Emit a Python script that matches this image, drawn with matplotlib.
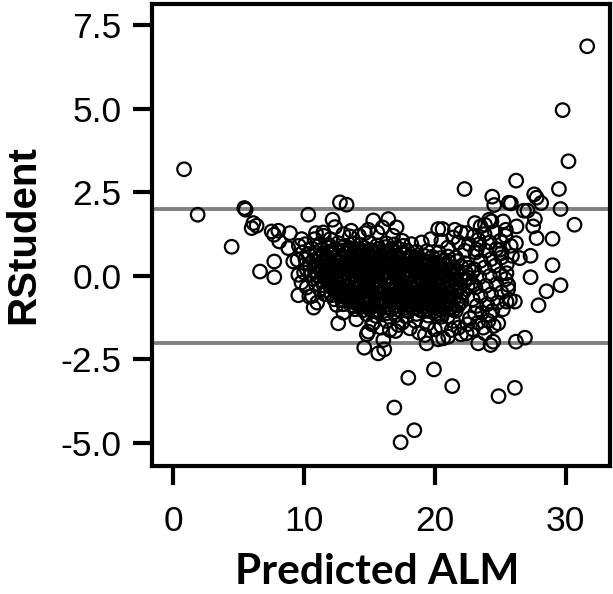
import matplotlib
matplotlib.use('Agg')
import matplotlib.pyplot as plt

plt.rcParams['axes.unicode_minus'] = False

# %% data (predicted ALM vs studentized residual)
# points outside the +/-2 band
x_out = [31.65, 29.77, 30.22, 0.82, 5.43, 22.27, 26.22, 29.49, 24.39, 24.54,
         25.66, 25.82, 27.6, 27.78, 28.13, 12.74, 13.25, 26.12, 24.87, 21.33,
         19.93, 17.97, 16.9, 18.43, 17.38, 14.6, 15.67, 16.13, 24.26, 19.37,
         23.32, 29.61]
y_out = [6.87, 4.96, 3.43, 3.19, 2.03, 2.6, 2.85, 2.6, 2.37, 2.12,
         2.19, 2.17, 2.44, 2.34, 2.18, 2.2, 2.13, -3.35, -3.6, -3.3,
         -2.8, -3.05, -3.94, -4.62, -4.98, -2.15, -2.32, -2.2, -2.07, -2.02,
         -2.02, 2.0]

# sparse points around the main cloud
x_edge = [1.86, 4.46, 5.53, 30.68, 26.81, 27.09, 29.0, 29.0, 29.61, 28.54,
          27.93, 27.32, 27.32, 26.5, 26.89, 26.2, 12.61, 10.73, 9.56, 6.63,
          7.72, 7.72, 10.32, 5.99, 6.37, 6.12, 7.52, 8.03, 7.7, 8.92,
          8.1, 8.79, 9.81, 9.17, 9.5, 9.56, 10.4, 12.18, 12.36, 10.91,
          11.47, 15.29, 16.44, 17.07, 14.65, 14.91, 13.5, 20.26, 20.59, 21.53,
          22.43, 23.07, 23.5, 23.83, 24.16, 24.33, 25.23, 25.43, 26.25, 27.65,
          27.52, 27.78, 26.2, 24.97, 25.1, 23.32, 23.2, 25.48, 25.61, 25.74,
          26.12, 25.48, 24.85, 24.21, 23.83, 24.46, 22.68, 23.07, 22.89, 22.43,
          21.28, 21.02, 20.64, 20.26, 19.24, 18.09, 17.2, 16.56, 16.06, 14.91,
          15.29, 13.76, 14.14, 12.49, 22.94, 21.41, 22.04, 20.51,
          9.9, 10.1, 9.6, 10.2, 10.0, 9.8, 10.6, 11.0, 10.8, 11.5,
          12.0, 13.0, 13.6, 14.2, 15.6, 16.0, 16.8, 17.5, 18.2, 19.0,
          19.7, 20.5, 21.0, 13.0, 14.0, 15.2, 16.3, 17.5, 18.5, 19.4,
          20.5, 21.4, 17.0, 18.8, 20.0, 21.8, 22.0, 15.9, 14.8]
y_edge = [1.83, 0.87, 1.98, 1.53, 1.95, 1.95, 1.11, 0.32, -0.28, -0.46,
          -0.88, -0.04, 0.6, 0.53, -1.85, -1.97, -1.42, -0.95, -0.58, 0.13,
          0.43, -0.04, 1.83, 1.43, 1.5, 1.58, 1.33, 1.35, 1.23, 1.28,
          1.03, 0.83, 1.1, 0.43, 0.48, 0.03, -0.62, 1.68, 1.46, 1.28,
          1.3, 1.66, 1.7, 1.45, 1.28, 1.38, 1.18, 1.4, 1.4, 1.38,
          1.28, 1.58, 1.48, 1.53, 1.68, 1.63, 1.63, 1.38, 1.48, 1.7,
          1.48, 1.13, 0.98, 0.78, 0.68, 1.08, 0.78, 0.08, -0.27, -0.72,
          -0.77, -0.77, -1.42, -1.17, -1.72, -1.97, -1.27, -1.12, -0.7, -1.72,
          -1.62, -1.82, -1.87, -1.9, -1.77, -1.57, -1.47, -1.62, -1.92, -1.67,
          -1.4, -0.77, -0.87, -0.87, -0.27, -1.02, -0.77, -1.22,
          0.7, 0.95, 0.9, -0.35, 0.1, -0.2, -0.6, -0.8, 1.1, 1.2,
          1.1, 1.25, 1.35, 1.2, 1.3, 1.45, 1.2, 1.05, 0.95, 1.0,
          1.1, 1.05, 0.85, -1.1, -1.3, -1.45, -1.35, -1.4, -1.35, -1.45,
          -1.5, -1.35, -1.65, -1.7, -1.6, -1.55, -1.75, -1.55, -1.75]

# cluster on the right (predicted 22-26)
x_right = [23.0, 23.4, 23.8, 24.2, 24.6, 25.0, 25.4, 25.8,
           23.1, 23.5, 23.9, 24.3, 24.7, 25.1, 25.5, 25.9,
           23.0, 23.4, 23.8, 24.2, 24.6, 25.0, 25.4,
           23.1, 23.5, 23.9, 24.3, 24.7, 25.1, 25.6,
           23.2, 23.6, 24.0, 24.4, 24.8, 25.2,
           23.3, 23.7, 24.1, 24.5, 22.5, 22.9,
           22.6, 22.3, 21.8, 21.4, 22.0]
y_right = [1.2, 0.95, 1.25, 1.0, 1.3, 1.05, 1.2, 0.9,
           0.7, 0.45, 0.75, 0.5, 0.8, 0.55, 0.35, 0.6,
           0.2, -0.05, 0.25, 0.0, 0.3, 0.05, -0.1,
           -0.35, -0.6, -0.3, -0.55, -0.25, -0.5, -0.4,
           -0.9, -1.1, -0.85, -1.05, -0.8, -1.0,
           -1.4, -1.55, -1.35, -1.5, -1.45, -1.6,
           0.95, 0.75, 1.0, 1.15, 1.3]

# dense core (predicted 10-23, residual -1.2 to 1)
x_core = [11.2, 11.9, 12.6, 13.1, 13.8, 14.3, 15.0, 15.6, 16.3, 16.9, 17.6,
          10.6, 11.3, 11.8, 12.4, 12.9, 13.5, 14.0, 14.6, 15.1, 15.7, 16.2, 16.8, 17.3, 17.9, 18.6, 19.4, 20.3,
          10.3, 10.9, 11.5, 12.0, 12.6, 13.2, 13.7, 14.3, 14.8, 15.4, 15.9, 16.5, 17.0, 17.6, 18.1, 18.7, 19.2, 19.8, 20.4, 21.0, 21.6,
          10.1, 10.7, 11.2, 11.8, 12.3, 12.9, 13.4, 14.0, 14.5, 15.1, 15.6, 16.2, 16.7, 17.3, 17.8, 18.4, 18.9, 19.5, 20.0, 20.6, 21.1, 21.7, 22.3,
          10.4, 10.9, 11.5, 12.1, 12.6, 13.2, 13.7, 14.3, 14.8, 15.4, 15.9, 16.5, 17.0, 17.6, 18.1, 18.7, 19.2, 19.8, 20.3, 20.9, 21.4, 22.0, 22.6,
          10.2, 10.8, 11.3, 11.9, 12.4, 13.0, 13.5, 14.1, 14.6, 15.2, 15.7, 16.3, 16.8, 17.4, 17.9, 18.5, 19.0, 19.6, 20.1, 20.7, 21.2, 21.8, 22.4, 22.9,
          10.5, 11.0, 11.6, 12.1, 12.7, 13.2, 13.8, 14.3, 14.9, 15.4, 16.0, 16.5, 17.1, 17.6, 18.2, 18.7, 19.3, 19.8, 20.4, 20.9, 21.5, 22.0, 22.6,
          10.7, 11.3, 11.8, 12.4, 12.9, 13.5, 14.0, 14.6, 15.1, 15.7, 16.2, 16.8, 17.3, 17.9, 18.4, 19.0, 19.5, 20.1, 20.6, 21.2, 21.7, 22.3, 22.8,
          10.9, 11.5, 12.0, 12.6, 13.1, 13.7, 14.2, 14.8, 15.3, 15.9, 16.4, 17.0, 17.5, 18.1, 18.6, 19.2, 19.7, 20.3, 20.8, 21.4, 21.9, 22.5,
          11.2, 11.7, 12.3, 12.8, 13.4, 13.9, 14.5, 15.0, 15.6, 16.1, 16.7, 17.2, 17.8, 18.3, 18.9, 19.4, 20.0, 20.5, 21.1, 21.6, 22.2,
          11.6, 12.1, 12.7, 13.2, 13.8, 14.3, 14.9, 15.4, 16.0, 16.5, 17.1, 17.6, 18.2, 18.7, 19.3, 19.8, 20.4, 20.9, 21.5, 22.0,
          12.3, 12.9, 13.5, 14.0, 14.6, 15.1, 15.7, 16.2, 16.8, 17.3, 17.9, 18.4, 19.0, 19.5, 20.1, 20.6, 21.2, 21.7,
          13.0, 13.6, 14.1, 14.7, 15.2, 15.8, 16.3, 16.9, 17.4, 18.0, 18.5, 19.1, 19.6, 20.2, 20.7, 21.3, 21.8,
          13.9, 14.5, 15.0, 15.6, 16.1, 16.7, 17.2, 17.8, 18.3, 18.9, 19.4, 20.0, 20.5, 21.1, 21.6,
          14.8, 15.5, 16.3, 17.0, 17.8, 18.6, 19.5, 20.3, 21.0]
y_core = [0.95, 0.92, 0.98, 0.9, 0.96, 0.93, 1.0, 0.91, 0.97, 0.94, 0.9,
          0.82, 0.78, 0.85, 0.8, 0.76, 0.83, 0.79, 0.84, 0.77, 0.81, 0.86, 0.78, 0.8, 0.75, 0.72, 0.74, 0.7,
          0.66, 0.62, 0.68, 0.64, 0.6, 0.67, 0.63, 0.69, 0.61, 0.65, 0.62, 0.67, 0.6, 0.64, 0.58, 0.55, 0.6, 0.57, 0.53, 0.58, 0.55,
          0.5, 0.47, 0.52, 0.48, 0.45, 0.51, 0.49, 0.46, 0.53, 0.47, 0.5, 0.44, 0.48, 0.52, 0.45, 0.42, 0.47, 0.43, 0.4, 0.45, 0.41, 0.44, 0.38,
          0.35, 0.32, 0.37, 0.33, 0.3, 0.36, 0.34, 0.31, 0.38, 0.32, 0.35, 0.29, 0.33, 0.36, 0.3, 0.27, 0.32, 0.28, 0.25, 0.3, 0.26, 0.29, 0.24,
          0.2, 0.17, 0.22, 0.18, 0.15, 0.21, 0.19, 0.16, 0.23, 0.17, 0.2, 0.14, 0.18, 0.21, 0.15, 0.12, 0.17, 0.13, 0.1, 0.15, 0.11, 0.14, 0.09, 0.12,
          0.05, 0.02, 0.07, 0.03, 0.0, 0.06, 0.04, 0.01, 0.08, 0.02, 0.05, -0.01, 0.03, 0.06, 0.0, -0.03, 0.02, -0.02, -0.05, 0.0, -0.04, -0.01, -0.06,
          -0.1, -0.13, -0.08, -0.12, -0.15, -0.09, -0.11, -0.14, -0.07, -0.13, -0.1, -0.16, -0.12, -0.09, -0.15, -0.18, -0.13, -0.17, -0.2, -0.15, -0.19, -0.16, -0.21,
          -0.25, -0.28, -0.23, -0.27, -0.3, -0.24, -0.26, -0.29, -0.22, -0.28, -0.25, -0.31, -0.27, -0.24, -0.3, -0.33, -0.28, -0.32, -0.35, -0.3, -0.34, -0.31,
          -0.4, -0.43, -0.38, -0.42, -0.45, -0.39, -0.41, -0.44, -0.37, -0.43, -0.4, -0.46, -0.42, -0.39, -0.45, -0.48, -0.43, -0.47, -0.5, -0.45, -0.49,
          -0.55, -0.58, -0.53, -0.57, -0.6, -0.54, -0.56, -0.59, -0.52, -0.58, -0.55, -0.61, -0.57, -0.54, -0.6, -0.63, -0.58, -0.62, -0.65, -0.6,
          -0.7, -0.73, -0.68, -0.72, -0.75, -0.69, -0.71, -0.74, -0.67, -0.73, -0.7, -0.76, -0.72, -0.69, -0.75, -0.78, -0.73, -0.77,
          -0.85, -0.88, -0.83, -0.87, -0.9, -0.84, -0.86, -0.89, -0.82, -0.88, -0.85, -0.91, -0.87, -0.84, -0.9, -0.93, -0.88,
          -1.0, -1.03, -0.98, -1.02, -1.05, -0.99, -1.01, -1.04, -0.97, -1.03, -1.0, -1.06, -1.02, -0.99, -1.05,
          -1.15, -1.2, -1.12, -1.18, -1.22, -1.14, -1.19, -1.16, -1.21]

# second layer inside the darkest part of the cloud
x_dark = [12.0, 12.7, 13.3, 13.9, 14.5, 15.2, 15.8, 16.4, 17.0, 17.7,
          11.7, 12.3, 12.9, 13.5, 14.1, 14.7, 15.3, 16.0, 16.6, 17.2, 17.9, 18.5, 19.1,
          11.4, 12.0, 12.6, 13.3, 13.9, 14.5, 15.1, 15.8, 16.4, 17.0, 17.6, 18.2, 18.9, 19.5, 20.2, 20.8,
          11.1, 11.7, 12.3, 13.0, 13.6, 14.2, 14.9, 15.5, 16.1, 16.7, 17.4, 18.0, 18.6, 19.3, 19.9, 20.5, 21.2,
          11.3, 11.9, 12.6, 13.2, 13.8, 14.5, 15.1, 15.7, 16.4, 17.0, 17.6, 18.3, 18.9, 19.5, 20.2, 20.8, 21.4,
          11.5, 12.1, 12.8, 13.4, 14.0, 14.7, 15.3, 15.9, 16.6, 17.2, 17.8, 18.5, 19.1, 19.7, 20.4, 21.0, 21.6,
          11.8, 12.4, 13.0, 13.7, 14.3, 14.9, 15.6, 16.2, 16.8, 17.5, 18.1, 18.7, 19.4, 20.0, 20.6, 21.3,
          12.0, 12.7, 13.3, 13.9, 14.6, 15.2, 15.8, 16.5, 17.1, 17.7, 18.4, 19.0, 19.6, 20.3, 20.9, 21.5,
          12.4, 13.0, 13.6, 14.3, 14.9, 15.5, 16.2, 16.8, 17.4, 18.1, 18.7, 19.3, 20.0, 20.6, 21.2,
          12.9, 13.5, 14.1, 14.8, 15.4, 16.0, 16.7, 17.3, 17.9, 18.6, 19.2, 19.8, 20.5, 21.1,
          13.6, 14.2, 14.9, 15.5, 16.1, 16.8, 17.4, 18.0, 18.7, 19.3, 19.9, 20.6,
          14.4, 15.1, 15.8, 16.5, 17.2, 17.9, 18.6, 19.3, 20.0, 20.7]
y_dark = [0.73, 0.7, 0.74, 0.71, 0.75, 0.69, 0.72, 0.74, 0.7, 0.68,
          0.58, 0.55, 0.59, 0.56, 0.6, 0.54, 0.57, 0.59, 0.55, 0.58, 0.52, 0.5, 0.47,
          0.43, 0.4, 0.44, 0.41, 0.45, 0.39, 0.42, 0.44, 0.4, 0.43, 0.37, 0.35, 0.38, 0.33, 0.36, 0.32,
          0.28, 0.25, 0.29, 0.26, 0.3, 0.24, 0.27, 0.29, 0.25, 0.28, 0.22, 0.2, 0.23, 0.18, 0.21, 0.17, 0.19,
          0.13, 0.1, 0.14, 0.11, 0.15, 0.09, 0.12, 0.14, 0.1, 0.13, 0.07, 0.05, 0.08, 0.03, 0.06, 0.02, 0.04,
          -0.02, -0.05, -0.01, -0.04, 0.0, -0.06, -0.03, -0.01, -0.05, -0.02, -0.08, -0.1, -0.07, -0.12, -0.09, -0.13, -0.11,
          -0.17, -0.2, -0.16, -0.19, -0.15, -0.21, -0.18, -0.16, -0.2, -0.17, -0.23, -0.25, -0.22, -0.27, -0.24, -0.28,
          -0.32, -0.35, -0.31, -0.34, -0.3, -0.36, -0.33, -0.31, -0.35, -0.32, -0.38, -0.4, -0.37, -0.42, -0.39, -0.43,
          -0.47, -0.5, -0.46, -0.49, -0.45, -0.51, -0.48, -0.46, -0.5, -0.47, -0.53, -0.55, -0.52, -0.57, -0.54,
          -0.62, -0.65, -0.61, -0.64, -0.6, -0.66, -0.63, -0.61, -0.65, -0.62, -0.68, -0.7, -0.67, -0.72,
          -0.77, -0.8, -0.76, -0.79, -0.75, -0.81, -0.78, -0.76, -0.8, -0.77, -0.83, -0.85,
          -0.92, -0.95, -0.91, -0.94, -0.9, -0.96, -0.93, -0.91, -0.95, -0.97]

cutoffs = [2, -2]
xticks = [0, 10, 20, 30]
yticks = [-5.0, -2.5, 0.0, 2.5, 5.0, 7.5]

x = x_out + x_edge + x_right + x_core + x_dark
y = y_out + y_edge + y_right + y_core + y_dark

# %% make plot
fig = plt.figure(figsize=(6.13, 5.94), dpi=100)
ax = fig.add_axes([0.248, 0.2155, 0.747, 0.778])

for c in cutoffs:
    ax.axhline(c, color='#808080', lw=2.8, zorder=1)
ax.scatter(x, y, s=95, facecolors='none', edgecolors='black', linewidths=1.6, zorder=2)

ax.set_xlim(-1.63, 33.39)
ax.set_ylim(-5.69, 8.14)
ax.set_xticks(xticks)
ax.set_xticklabels([str(t) for t in xticks])
ax.set_yticks(yticks)
ax.set_yticklabels(['%.1f' % t for t in yticks])

for s in ax.spines.values():
    s.set_linewidth(3)
ax.tick_params(axis='both', length=14, width=3, labelsize=25.5)
ax.tick_params(axis='x', pad=14)
ax.tick_params(axis='y', pad=8)
for lab in ax.get_xticklabels() + ax.get_yticklabels():
    lab.set_family('Liberation Sans')

# axis titles
fig.text(0.038, 1 - 235 / 594, 'RStudent', rotation=90, fontsize=29, fontweight='bold',
         family='Liberation Sans', ha='center', va='center')
fig.text(377 / 613, 1 - 572 / 594, 'Predicted ALM', fontsize=30.5, fontweight='bold',
         family='Lato', ha='center', va='center')

fig.savefig('out.png', dpi=100)
